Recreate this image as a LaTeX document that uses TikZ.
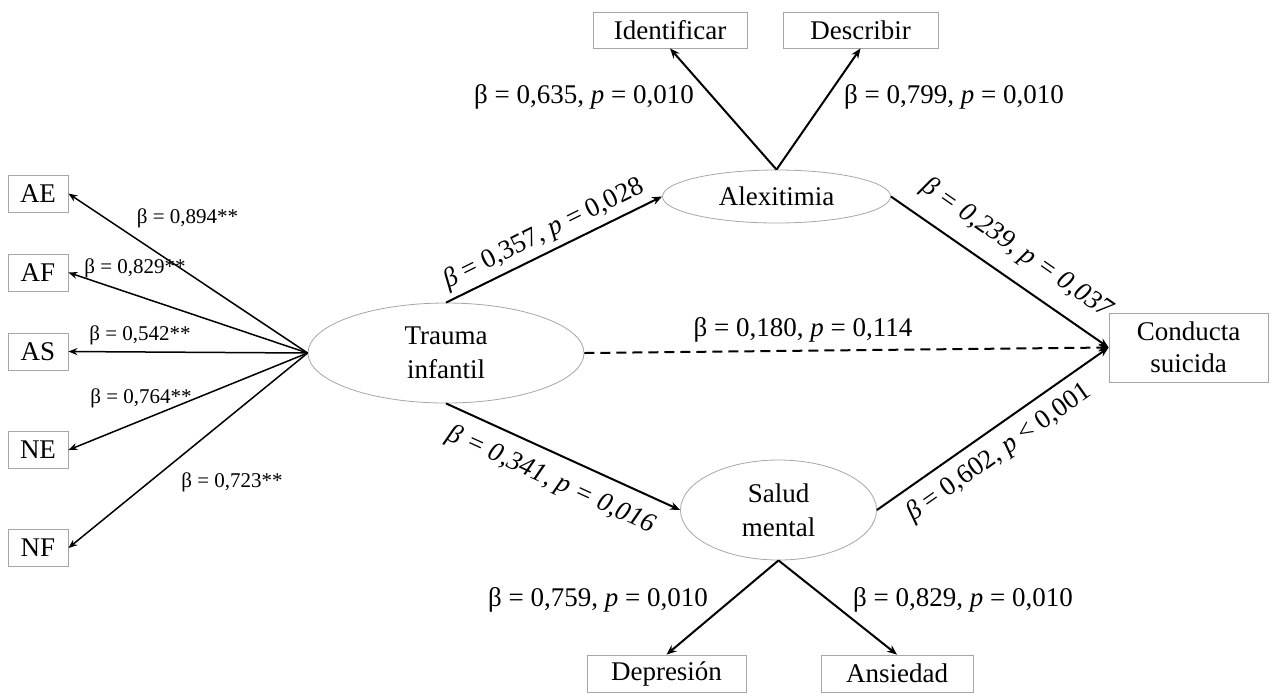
\documentclass[tikz,border=0pt]{standalone}
\usepackage{fontspec}
\setmainfont{Liberation Serif}
\usetikzlibrary{arrows.meta,shapes.geometric}
\tikzset{
  obs/.style={draw=gray!70, line width=0.4pt, minimum height=18.5pt, inner sep=0pt, font=\fontsize{13.5}{16}\selectfont},
  lat/.style={draw=gray!70, line width=0.4pt, ellipse, inner sep=0pt, align=center, font=\fontsize{13.5}{17}\selectfont},
  link/.style={-{Stealth[length=5pt,width=4pt]}, line width=1pt},
  load/.style={-{Stealth[length=4.5pt,width=3.5pt]}, line width=0.75pt},
  coef/.style={font=\fontsize{13.5}{16}\selectfont, inner sep=0pt},
  coefs/.style={font=\fontsize{10.5}{12}\selectfont, inner sep=0pt}
}
\begin{document}
\begin{tikzpicture}[x=0.5pt,y=-0.5pt]
\useasboundingbox (0,0) rectangle (1272,693);
% indicadores del trauma
\node[obs, minimum width=30pt] (ae) at (38,193.5) {AE};
\node[obs, minimum width=30pt] (af) at (38,272.5) {AF};
\node[obs, minimum width=30pt] (as) at (38,351.5) {AS};
\node[obs, minimum width=30pt] (ne) at (38,450) {NE};
\node[obs, minimum width=30pt] (nf) at (38,548) {NF};
% variables latentes
\node[lat, minimum width=138pt, minimum height=50pt] (tr) at (446,353) {Trauma\\infantil};
\node[lat, minimum width=114pt, minimum height=26.5pt] (al) at (776.5,196.5) {Alexitimia};
\node[lat, minimum width=98pt, minimum height=50pt] (sm) at (778.5,510) {Salud\\mental};
% indicadores
\node[obs, minimum width=77pt, minimum height=18pt] (id) at (670,30) {Identificar};
\node[obs, minimum width=77.5pt, minimum height=18pt] (de) at (860.5,30) {Describir};
\node[obs, minimum width=79.5pt] (dp) at (666.5,673.5) {Depresión};
\node[obs, minimum width=76pt] (an) at (897,673.5) {Ansiedad};
\node[obs, minimum width=79.5pt, minimum height=34.5pt, align=center] (cs) at (1188.5,347.5) {Conducta\\suicida};
% rutas
\draw[link] (tr.north) -- (al.west);
\draw[link] (tr.south) -- (sm.west);
\draw[link, dash pattern=on 5pt off 3pt] (tr.east) -- (cs.west);
\draw[link] (al.east) -- (cs.west);
\draw[link] (sm.east) -- (cs.west);
\draw[link] (al.north) -- (id.south);
\draw[link] (al.north) -- (de.south);
\draw[link] (sm.south) -- (dp.north);
\draw[link] (sm.south) -- (an.north);
\foreach \b in {ae,af,as,ne,nf} \draw[load] (tr.west) -- (\b.east);
% coeficientes
\node[coefs] (lae) at (187.5,218) {β = 0,894**};
\node[coefs] (laf) at (135,268) {β = 0,829**};
\node[coefs] (las) at (140,335) {β = 0,542**};
\node[coefs] (lne) at (141,398) {β = 0,764**};
\node[coefs] (lnf) at (232,482) {β = 0,723**};
\node[coef] (lid) at (584,97) {β = 0,635, \textit{p} = 0,010};
\node[coef] (lde) at (954,97) {β = 0,799, \textit{p} = 0,010};
\node[coef] (ldp) at (598,600) {β = 0,759, \textit{p} = 0,010};
\node[coef] (lan) at (963,600) {β = 0,829, \textit{p} = 0,010};
\node[coef] (ldir) at (803,330) {β = 0,180, \textit{p} = 0,114};
\node[coef, rotate=26.4] (la1) at (544,234) {\textit{β} = 0,357, \textit{p} = 0,028};
\node[coef, rotate=-24.6] (la2) at (551,480) {\textit{β = 0,341, p = 0,016}};
\node[coef, rotate=-34.8] (lb1) at (1017,249) {\textit{β = 0,239, p = 0,037}};
\node[coef, rotate=35.2] (lb2) at (999,453) {\textit{β} = 0,602, \textit{p} < 0,001};
\end{tikzpicture}
\end{document}
